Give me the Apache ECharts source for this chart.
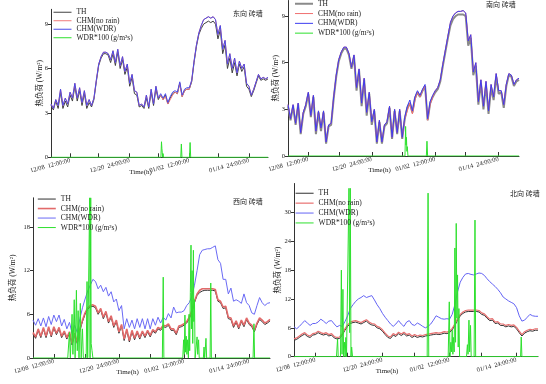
<!DOCTYPE html>
<html>
<head>
<meta charset="utf-8">
<script src="https://cdn.jsdelivr.net/npm/echarts@6/dist/echarts.min.js"></script>
<style>html,body{margin:0;padding:0;background:#fff}#c{width:546px;height:384px}</style>
</head>
<body>
<div id="c"></div>
<script>
// ---- categories: 12-hour steps (hours from start) ----
const categories = Array.from({length: 92}, (_, i) => String(i * 12));
const labelIdx = [8, 33, 58, 83];
const tickLabels = ['12/08  12:00:00', '12/20  24:00:00', '01/02  12:00:00', '01/14  24:00:00'];
const tickIdx = [8, 20, 33, 45, 58, 70, 83];

// ---- East (东向) ----
const eastTH = [3.5,3.2,3.8,3.3,4.4,3.3,3.8,3.4,4.2,3.8,4.8,3.8,4.5,3.5,4.3,3.3,3.7,3.4,3.9,5.1,6.2,6.7,7.0,7.0,6.9,6.4,7.0,6.2,7.1,6.0,6.6,5.6,6.1,4.8,5.4,4.3,4.2,3.4,3.5,3.3,4.0,3.3,4.4,3.5,4.6,3.9,4.2,3.9,4.2,3.6,4.0,4.3,4.4,4.3,5.0,4.1,4.5,4.6,4.6,5.1,6.4,7.5,8.3,8.7,9.0,9.1,9.2,9.1,9.2,9.0,8.0,8.6,7.0,7.6,6.0,6.7,5.7,6.4,5.5,6.3,5.8,6.1,4.8,4.6,4.1,4.5,5.0,5.5,5.2,5.3,5.2,5.3];
const eastNoRain = [3.6,3.3,3.9,3.5,4.6,3.5,4.0,3.6,4.4,4.0,5.0,4.0,4.7,3.7,4.5,3.5,3.9,3.5,4.0,5.2,6.3,6.8,7.1,7.1,7.0,6.6,7.2,6.4,7.3,6.2,6.8,5.8,6.3,5.0,5.6,4.5,4.4,3.5,3.6,3.4,4.2,3.4,4.6,3.6,4.8,4.0,4.2,3.9,4.1,3.6,3.9,4.2,4.4,4.3,5.0,4.1,4.5,4.6,4.6,5.2,6.5,7.6,8.4,8.9,9.3,9.4,9.5,9.4,9.5,9.3,8.3,8.9,7.3,7.9,6.3,7.0,6.0,6.7,5.7,6.5,6.0,6.3,5.0,4.8,4.2,4.6,5.1,5.6,5.3,5.4,5.3,5.4];
const eastWDR = [3.6,3.3,3.9,3.5,4.6,3.5,4.0,3.6,4.4,4.0,5.0,4.0,4.7,3.7,4.5,3.5,3.9,3.5,4.0,5.2,6.3,6.8,7.1,7.1,7.0,6.6,7.2,6.4,7.3,6.2,6.8,5.8,6.3,5.0,5.6,4.5,4.4,3.5,3.6,3.4,4.2,3.4,4.6,3.6,4.8,4.0,4.3,4.0,4.3,3.7,4.1,4.4,4.5,4.4,5.1,4.2,4.6,4.7,4.7,5.2,6.5,7.6,8.4,8.9,9.3,9.4,9.5,9.4,9.5,9.3,8.3,8.9,7.3,7.9,6.3,7.0,6.0,6.7,5.7,6.5,6.0,6.3,5.0,4.8,4.2,4.6,5.1,5.6,5.3,5.4,5.3,5.4];
const eastRain = [[0,0],[553,0],[556,1.05],[558,0.6],[560,0.3],[562,0],[564,0.25],[566,0],[653,0],[656,0.9],[659,0],[697,0],[700,1.0],[703,0],[1092,0]];

// ---- South (南向) ----
const southTH = [3.2,2.3,3.2,2.0,3.3,1.4,2.7,3.2,4.0,2.5,3.8,1.4,2.8,1.6,2.8,0.8,1.9,2.0,3.7,5.1,6.1,6.6,6.9,6.9,6.5,5.6,6.4,4.2,5.5,3.2,4.9,2.6,4.0,2.0,2.9,0.8,2.2,0.8,1.9,2.1,3.1,1.1,2.9,1.4,2.9,1.1,2.4,3.1,3.4,2.8,3.7,4.1,3.8,4.2,4.5,2.3,3.4,3.8,4.1,4.3,4.8,5.8,6.7,7.6,8.4,8.8,9.0,9.1,9.1,9.1,9.0,7.1,7.6,5.2,5.8,3.3,4.7,3.0,4.6,2.7,4.4,3.6,5.1,4.0,4.1,3.1,4.5,5.2,5.1,4.5,4.8,4.9];
const southNoRain = [3.3,2.4,3.3,2.1,3.4,1.5,2.8,3.3,4.1,2.6,3.9,1.6,2.9,1.8,2.9,0.9,2.0,2.1,3.8,5.2,6.2,6.7,7.0,7.0,6.6,5.7,6.5,4.4,5.6,3.4,5.0,2.8,4.1,2.2,3.0,0.9,2.3,0.9,2.0,2.2,3.2,1.2,3.0,1.5,3.0,1.2,2.4,2.9,3.4,2.7,3.6,4.1,3.8,4.2,4.5,2.3,3.3,3.8,4.2,4.4,4.9,5.9,6.8,7.7,8.6,9.0,9.2,9.3,9.3,9.35,9.2,7.4,7.8,5.4,6.0,3.5,4.9,3.2,4.8,2.9,4.6,3.8,5.3,4.2,4.2,3.3,4.6,5.3,5.2,4.6,4.9,5.0];
const southWDR = [3.3,2.4,3.3,2.1,3.4,1.5,2.8,3.3,4.1,2.6,3.9,1.6,2.9,1.8,2.9,0.9,2.0,2.1,3.8,5.2,6.2,6.7,7.0,7.0,6.6,5.7,6.5,4.4,5.6,3.4,5.0,2.8,4.1,2.2,3.0,0.9,2.3,0.9,2.0,2.2,3.2,1.2,3.0,1.5,3.0,1.2,2.5,3.2,3.6,2.9,3.8,4.2,3.9,4.3,4.6,2.4,3.5,3.9,4.2,4.4,4.9,5.9,6.8,7.7,8.6,9.0,9.2,9.3,9.3,9.35,9.2,7.4,7.8,5.4,6.0,3.5,4.9,3.2,4.8,2.9,4.6,3.8,5.3,4.2,4.2,3.3,4.6,5.3,5.2,4.6,4.9,5.0];
const southRain = [[0,0],[553,0],[556,1.9],[558,0.7],[560,1.2],[562,0.3],[564,0.6],[567,0],[654,0],[657,0.95],[660,0],[1092,0]];

// ---- West (西向) ----
const westTH = [3.3,2.7,3.8,2.8,4.0,2.8,4.1,2.9,4.1,3.2,4.0,2.8,3.5,2.6,3.4,1.8,3.2,2.0,3.8,5.0,6.0,6.7,7.0,7.1,6.9,6.0,6.6,5.4,6.2,4.8,5.6,4.2,5.0,3.4,4.4,2.4,3.8,2.2,3.6,2.5,3.5,2.6,3.5,2.8,3.6,2.9,3.7,3.4,4.0,3.8,4.3,4.2,4.5,3.8,3.8,3.2,4.2,4.3,4.5,4.8,5.4,6.3,7.6,8.6,9.0,9.2,9.3,9.3,9.3,9.3,9.2,7.8,7.6,6.8,6.9,5.4,5.3,4.2,4.9,4.0,5.0,4.3,5.3,4.6,4.3,3.6,4.6,5.3,5.0,4.6,4.8,5.1];
const westNoRain = [3.5,2.9,4.0,3.0,4.2,3.0,4.3,3.1,4.3,3.4,4.2,3.0,3.7,2.8,3.6,2.0,3.4,2.2,4.0,5.2,6.2,6.9,7.2,7.3,7.1,6.2,6.8,5.6,6.4,5.0,5.8,4.4,5.2,3.6,4.6,2.6,4.0,2.4,3.8,2.7,3.7,2.8,3.7,3.0,3.8,3.1,3.9,3.6,4.2,4.0,4.5,4.4,4.7,4.0,4.0,3.4,4.4,4.5,4.7,5.0,5.6,6.5,7.8,8.8,9.3,9.5,9.5,9.5,9.5,9.5,9.4,8.0,7.8,7.0,7.1,5.6,5.5,4.4,5.1,4.2,5.2,4.5,5.5,4.8,4.5,3.8,4.8,5.5,5.2,4.8,5.0,5.3];
const westWDR = [5.2,4.5,5.4,4.4,5.5,4.3,5.7,4.6,5.9,5.0,5.9,4.4,5.3,4.0,4.9,3.4,4.5,3.5,5.4,6.9,8.1,9.2,10.0,10.8,10.5,9.5,10.0,9.1,9.7,8.5,9.1,7.7,8.1,6.5,7.2,4.0,5.4,4.2,5.2,4.0,5.4,4.2,5.4,4.0,5.4,4.0,5.4,4.5,5.6,4.8,5.6,5.2,6.1,5.5,7.0,6.2,6.3,6.3,6.5,7.2,7.6,8.5,10.0,12.0,14.2,14.8,14.9,15.0,15.0,15.2,15.4,13.5,13.0,10.8,10.8,8.8,9.6,7.8,8.0,7.8,7.5,8.8,7.6,7.2,6.2,6.0,7.2,8.3,7.6,7.2,7.5,7.6];
const westRain = [[0,0],[160,0],[168,3.5],[172,0],[180,6],[184,0.5],[190,8],[194,0],[200,9.3],[204,1],[208,6.5],[212,0],[218,7.5],[222,0],[228,4],[232,0],[245,0],[249,10.5],[252,0],[258,0],[261,22],[263,0],[266,22],[268,2],[272,1],[276,0],[596,0],[600,11.1],[603,0],[690,0],[694,2.5],[697,0.5],[700,5.9],[703,0.8],[706,3],[709,0.5],[712,2.5],[716,0],[719,6],[722,1],[725,9],[728,15.5],[730,4],[733,12],[736,2],[739,14.8],[741,5],[744,8],[747,0],[752,0],[756,2.9],[759,0.5],[763,2.5],[766,0],[785,0],[788,1.5],[791,0],[794,0],[797,2.7],[800,0],[816,0],[819,10.3],[822,0],[1014,0],[1018,4.7],[1021,0],[1092,0]];

// ---- North (北向) ----
const northTH = [3.4,3.6,4.0,4.4,4.7,4.2,4.0,4.5,4.6,5.0,4.7,4.5,4.7,4.3,4.5,3.9,3.7,3.8,4.5,5.5,6.3,6.9,7.1,7.2,7.0,6.8,7.1,7.4,6.9,6.6,6.5,6.0,5.8,5.3,4.6,4.0,3.8,4.5,4.2,4.8,4.4,4.8,4.3,4.5,4.0,4.3,4.0,4.2,4.1,4.3,4.4,4.5,4.6,4.7,4.6,4.7,4.9,4.8,5.0,5.6,6.5,7.6,8.5,9.0,9.3,9.4,9.4,9.4,9.4,9.3,8.8,8.6,8.0,7.5,7.6,6.9,7.0,6.5,6.5,6.2,6.4,6.2,6.3,5.8,5.0,4.3,4.9,5.2,5.4,5.3,5.5,5.5];
const northNoRain = [3.7,3.9,4.3,4.7,5.0,4.5,4.3,4.8,4.9,5.3,5.0,4.8,5.0,4.6,4.8,4.2,4.0,4.1,4.8,5.8,6.6,7.2,7.4,7.5,7.3,7.1,7.4,7.7,7.2,6.9,6.8,6.3,6.1,5.6,4.9,4.3,4.1,4.8,4.5,5.1,4.7,5.1,4.6,4.8,4.3,4.6,4.3,4.5,4.4,4.6,4.7,4.8,4.9,5.0,4.9,5.0,5.2,5.1,5.3,5.9,6.8,7.9,8.8,9.3,9.6,9.7,9.7,9.7,9.7,9.6,9.1,8.9,8.3,7.8,7.9,7.2,7.3,6.8,6.8,6.5,6.7,6.5,6.6,6.1,5.3,4.6,5.2,5.5,5.7,5.6,5.8,5.8];
const northWDR = [6.2,5.8,6.3,6.9,7.5,7.0,6.5,6.9,6.9,7.2,7.8,7.4,6.9,7.4,7.5,6.8,6.2,6.5,6.3,7.3,8.5,10.0,10.8,11.5,12.0,12.3,12.7,12.3,12.5,12.7,11.8,10.8,10.0,9.0,8.2,7.5,6.8,6.3,6.8,7.5,6.8,6.3,7.2,7.5,6.7,6.5,7.0,6.7,6.3,6.0,6.3,6.8,7.6,8.5,8.2,7.9,7.8,7.9,7.8,8.8,10.8,13.5,15.5,16.5,17.2,17.3,17.1,17.0,17.2,17.4,17.3,16.9,16.2,15.6,15.1,14.6,14.0,13.3,12.4,12.0,11.6,11.3,11.0,10.2,8.5,7.4,7.6,8.2,8.8,8.5,8.4,8.4];
const northRain = [[0,0],[190,0],[195,3.7],[198,0],[208,0],[212,18],[215,0.5],[219,14],[222,0],[226,3],[229,0],[232,4],[235,0],[243,0],[246,35],[249,5],[252,35],[255,0],[258,2],[262,0],[596,0],[600,34],[603,0],[690,0],[695,11.4],[698,0],[702,3],[705,1],[708,5.5],[711,0.5],[714,4],[717,1],[720,22.6],[723,3],[726,27.7],[729,8],[732,17],[735,2],[738,10],[741,0],[772,0],[776,2.5],[779,0.5],[783,7.6],[786,1],[790,6.5],[793,0],[806,0],[810,28.4],[813,0],[1014,0],[1017,4.1],[1020,0],[1092,0]];

const panelTitles = ['东向 砖墙', '南向 砖墙', '西向 砖墙', '北向 砖墙'];
const yName = '热负荷 (W/m²)';
const names = ['TH', 'CHM(no rain)', 'CHM(WDR)', 'WDR*100 (g/m²s)'];
const yTicks = [[0,3,6,9],[0,3,6,9],[0,6,12,18],[0,6,12,18,24,30]];
const yMax = [10, 10, 22, 36];

const FONT = "'Liberation Serif', 'Noto Sans CJK SC', serif";
const CLEAR = 'rgba(0,0,0,0)';

const panels = [
  {grid:{left:51, top:9.3, width:217, height:148}, th:eastTH, nr:eastNoRain, wdr:eastWDR, rain:eastRain,
   thStyle:{color:'#404040', width:1}, nrStyle:{color:'#f07a7a', width:1}, wdrStyle:{color:'#4a4ae8', width:1},
   legend:{left:53, top:8.5, gap:1}, title:{left:233, top:11}, nameGap:7, namePad:38},
  {grid:{left:288, top:0.5, width:231, height:155.5}, th:southTH, nr:southNoRain, wdr:southWDR, rain:southRain,
   thStyle:{color:'#8a8a8a', width:2}, nrStyle:{color:'#f07070', width:1}, wdrStyle:{color:'#3c3cf0', width:1},
   legend:{left:294, top:0, gap:2.3}, title:{left:486, top:2}, nameGap:8, namePad:48},
  {grid:{left:33, top:197.8, width:237, height:160.2}, th:westTH, nr:westNoRain, wdr:westWDR, rain:westRain,
   thStyle:{color:'#303030', width:1}, nrStyle:{color:'#e26a6a', width:1.6}, wdrStyle:{color:'#6a6af5', width:1},
   legend:{left:37, top:195.3, gap:2}, title:{left:233, top:199}, nameGap:16, namePad:48},
  {grid:{left:294, top:183.5, width:244, height:173.2}, th:northTH, nr:northNoRain, wdr:northWDR, rain:northRain,
   thStyle:{color:'#303030', width:1}, nrStyle:{color:'#e87070', width:1.2}, wdrStyle:{color:'#6464f5', width:1},
   legend:{left:295, top:189.5, gap:2.4}, title:{left:510, top:191}, nameGap:12, namePad:58}
];

const grid = [], xAxis = [], yAxis = [], series = [], legend = [], title = [];
panels.forEach((p, k) => {
  grid.push(Object.assign({containLabel:false}, p.grid));
  xAxis.push({
    type:'category', gridIndex:k, data:categories, boundaryGap:false,
    axisLine:{lineStyle:{color:'#333', width:1}},
    axisTick:{inside:true, length:4, lineStyle:{color:'#333'}, interval:(i) => tickIdx.includes(i)},
    axisLabel:{interval:(i) => labelIdx.includes(i), rotate:15, margin:3, fontSize:6.5, fontFamily:FONT, color:'#222',
      formatter:(v, i) => { const j = labelIdx.indexOf(i); return j >= 0 ? tickLabels[j] : ''; }},
    name:'Time(h)', nameLocation:'middle', nameGap:11, nameMoveOverlap:false,
    nameTextStyle:{fontSize:7, fontFamily:FONT, color:'#222', padding:[0, p.namePad, 0, 0]},
    splitLine:{show:false}
  });
  xAxis.push({type:'value', gridIndex:k, min:0, max:1092, show:false});
  yAxis.push({
    type:'value', gridIndex:k, min:0, max:yMax[k],
    axisLine:{show:true, lineStyle:{color:'#333', width:1}},
    axisTick:{show:true, length:3, lineStyle:{color:'#333'}, customValues:yTicks[k]},
    axisLabel:{fontSize:6.5, fontFamily:FONT, color:'#222', margin:3, customValues:yTicks[k]},
    splitLine:{show:false},
    name:yName, nameLocation:'middle', nameGap:p.nameGap, nameMoveOverlap:false,
    nameTextStyle:{fontSize:7.5, fontFamily:FONT, color:'#222'}
  });
  const xi = 2 * k;
  const mk = (name, data, st, xIndex) => ({
    type:'line', name, data, xAxisIndex:xIndex, yAxisIndex:k, symbol:'none', showSymbol:false,
    lineStyle:{color:st.color, width:st.width}, itemStyle:{color:st.color}, animation:false, silent:true
  });
  series.push(mk(names[0], p.th, p.thStyle, xi));
  series.push(mk(names[1], p.nr, p.nrStyle, xi));
  series.push(mk(names[2], p.wdr, p.wdrStyle, xi));
  series.push(mk(names[3], p.rain, {color:'#2ee02e', width:1}, xi + 1));
  const styles = [p.thStyle, p.nrStyle, p.wdrStyle, {color:'#2ee02e', width:1}];
  legend.push({
    orient:'vertical', left:p.legend.left, top:p.legend.top, itemGap:p.legend.gap,
    itemWidth:18, itemHeight:8, padding:0, selectedMode:false,
    textStyle:{fontSize:7.5, fontFamily:FONT, color:'#222'},
    data:names.map((n, j) => ({
      name:n,
      lineStyle:{color:styles[j].color, width:styles[j].width},
      itemStyle:{color:CLEAR, borderColor:CLEAR, borderWidth:0, opacity:0}
    }))
  });
  title.push({text:panelTitles[k], left:p.title.left, top:p.title.top, padding:0,
    textStyle:{fontSize:7, fontWeight:'normal', fontFamily:FONT, color:'#222'}});
});

const chart = echarts.init(document.getElementById('c'), null, {renderer:'canvas'});
chart.setOption({backgroundColor:'#fff', animation:false, title, legend, grid, xAxis, yAxis, series});
</script>
</body>
</html>
